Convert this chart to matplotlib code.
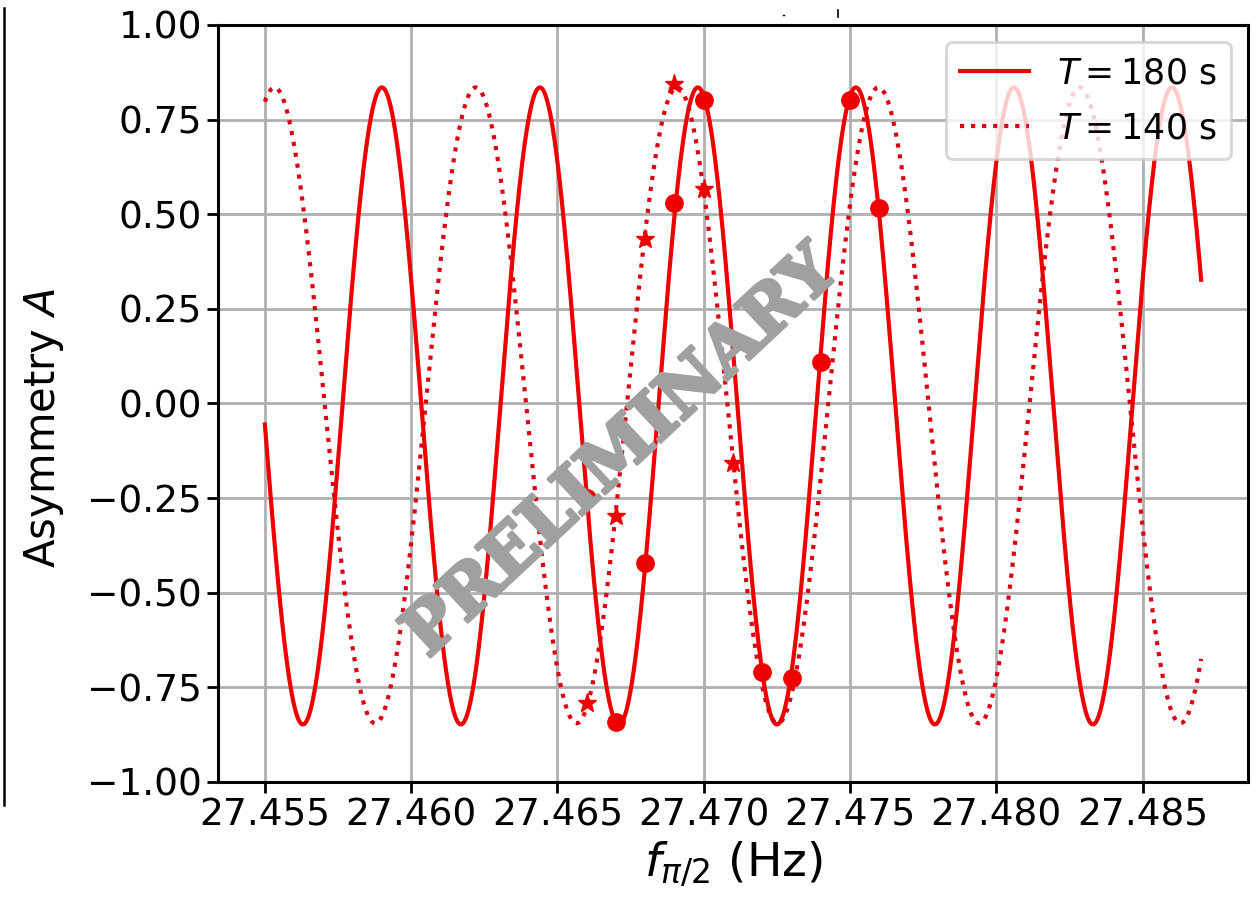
import matplotlib
matplotlib.use('Agg')
import matplotlib.pyplot as plt
import matplotlib.patheffects as pe
import numpy as np

# dati
freq_range = [27.455, 27.487]          # intervallo della scansione (Hz)
labels = ['$T = 180$ s', '$T = 140$ s']
styles = ['-', ':']
colors = ['#ee0000', '#dd0010']
# parametri delle frange
fringe_period = [0.00540, 0.00688]     # Hz
fringe_trough = [27.4563, 27.45877]    # posizione di un minimo (Hz)
fringe_offset = [-0.0065, -0.005]
fringe_amp = [0.8415, 0.840]

# punti misurati T = 180 s (cerchi)
f_180 = [27.466, 27.467, 27.468, 27.469, 27.470, 27.472, 27.473, 27.474, 27.475, 27.476]
a_180 = [-0.25, -0.842, -0.422, 0.530, 0.802, -0.709, -0.725, 0.110, 0.802, 0.517]
# punti misurati T = 140 s (stelle)
f_140 = [27.466, 27.467, 27.468, 27.469, 27.470, 27.471]
a_140 = [-0.791, -0.297, 0.434, 0.844, 0.567, -0.158]

xticks = [27.455, 27.460, 27.465, 27.470, 27.475, 27.480, 27.485]
yticks = [-1.0, -0.75, -0.5, -0.25, 0.0, 0.25, 0.5, 0.75, 1.0]

fig = plt.figure(figsize=(12.56, 8.98), dpi=100)
ax = fig.add_axes([0.1736, 0.1292, 0.8200, 0.8430])

f = np.linspace(freq_range[0], freq_range[1], 2000)
for i in range(2):
    phase = 2 * np.pi * (f - fringe_trough[i]) / fringe_period[i]
    a = fringe_offset[i] - fringe_amp[i] * np.cos(phase)
    ax.plot(f, a, styles[i], color=colors[i], lw=3, label=labels[i])

ax.plot(f_180, a_180, 'o', color='#ee0000', ms=12.5, zorder=4)
ax.plot(f_140, a_140, '*', color='#ee0000', ms=14, zorder=4)

ax.set_ylim(-1, 1)
ax.set_xticks(xticks)
ax.set_yticks(yticks)
ax.xaxis.set_major_formatter(matplotlib.ticker.FormatStrFormatter('%.3f'))
ax.yaxis.set_major_formatter(matplotlib.ticker.FuncFormatter(lambda v, p: f'{v:.2f}'.replace('-', '\u2212')))
ax.grid(True, color='#b0b0b0', lw=2)
ax.set_axisbelow(True)
for s in ax.spines.values():
    s.set_linewidth(2.2)
ax.tick_params(labelsize=27, length=8, width=2)

ax.set_xlabel('$f_{\\pi/2}$ (Hz)', fontsize=34, labelpad=4)
ax.set_ylabel('Asymmetry $A$', fontsize=30)
ax.yaxis.set_label_coords(-0.148, 0.468)

leg = ax.legend(loc='upper right', fontsize=25, handlelength=2.0, borderaxespad=0.5,
                labelspacing=0.6)
leg.get_frame().set_linewidth(2)

# scritta PRELIMINARY
fig.text(0.495, 0.4955, 'PRELIMINARY', fontsize=49, fontfamily='DejaVu Serif',
         fontweight='bold', color='#a0a0a0', rotation=43, ha='center', va='center',
         rotation_mode='anchor', zorder=10,
         path_effects=[pe.withStroke(linewidth=2.5, foreground='#a0a0a0')])

# residui del ritaglio originale
fig.add_artist(plt.Line2D([0.0028, 0.0028], [1 - 805 / 898, 1 - 8 / 898], color='black', lw=1.8))
fig.add_artist(plt.Line2D([838 / 1256, 838 / 1256], [1 - 17 / 898, 1 - 10 / 898], color='black', lw=1.2))
fig.add_artist(plt.Line2D([783 / 1256, 784 / 1256], [1 - 15 / 898, 1 - 15 / 898], color='black', lw=1.0))

fig.savefig('out.png', dpi=100)
